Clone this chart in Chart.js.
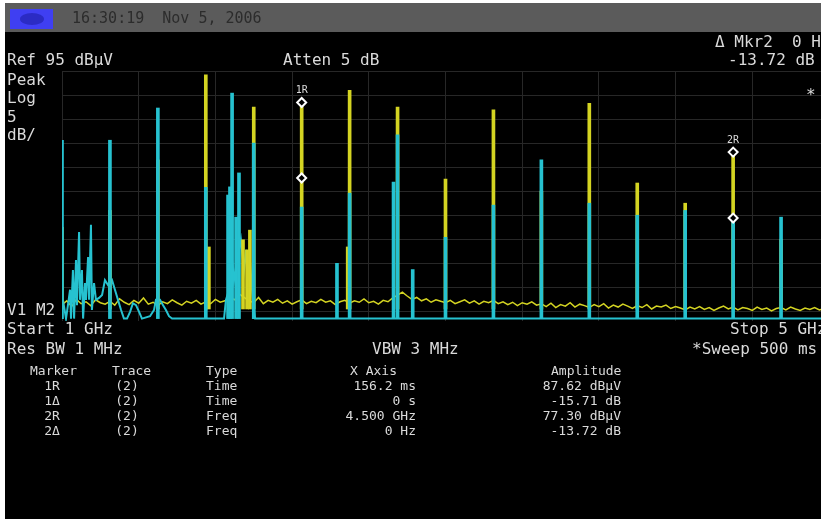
<!DOCTYPE html>
<html><head><meta charset="utf-8">
<script src="https://cdn.jsdelivr.net/npm/chart.js@4.4.1/dist/chart.umd.min.js"></script>
<style>
html,body{margin:0;padding:0;width:821px;height:519px;overflow:hidden;background:#fff;}
#screen{position:absolute;left:5px;top:3px;width:816px;height:516px;background:#000;}
#bar{position:absolute;left:5px;top:3px;width:816px;height:29px;background:#5b5b5b;}
#logo{position:absolute;left:10px;top:9px;width:43px;height:20px;background:#3f3ff2;}
#logoMark{position:absolute;left:20px;top:13px;width:24px;height:12px;border-radius:50%;background:#2b2bc4;}
canvas{position:absolute;left:0;top:0;}
.t{position:absolute;font-family:"DejaVu Sans Mono",monospace;color:#dadada;white-space:pre;font-size:16px;line-height:16px;}
.s{font-size:13px;line-height:13px;}
.m{font-size:10px;line-height:10px;}
</style></head>
<body>
<div id="screen"></div>
<div id="bar"></div>
<div id="logo"></div><div id="logoMark"></div>
<canvas id="c" width="840" height="519"></canvas>
<div id="texts"></div>
<script>
// ---- axis grid (graticule) ----
const xGridGHz = [1.0,1.4,1.8,2.2,2.6,3.0,3.4,3.8,4.2,4.6,5.0];
const yGridDb  = [95,90,85,80,75,70,65,60,55,50,45];

// ---- trace 1 (yellow) noise floor, sweep points ----
const sweepStartGHz = 1.0;
const sweepStepGHz = 0.025;
const trace1FloorDb = [
46.4,47.2,46.0,47.5,46.6,47.0,46.2,47.4,46.8,46.5,
47.1,46.3,47.6,46.9,46.4,47.3,46.7,47.8,46.5,46.9,
46.2,47.0,46.6,47.4,46.8,46.3,47.1,46.7,47.3,46.5,
47.0,46.6,47.5,46.9,47.2,48.0,47.4,48.6,47.9,47.2,
46.8,47.9,46.6,47.3,46.9,47.5,46.7,47.2,46.5,47.0,
47.4,46.6,47.1,46.8,47.5,46.9,47.2,46.4,47.0,47.3,
46.7,47.2,46.9,47.6,46.8,47.1,46.5,47.3,47.0,47.8,
48.4,49.0,48.2,47.5,47.9,47.2,47.6,46.9,47.4,47.1,
46.8,47.3,46.6,47.0,47.4,46.7,47.2,46.5,47.1,46.8,
47.3,46.6,47.0,46.4,46.9,46.2,46.8,46.5,47.0,46.3,
46.6,46.0,46.7,45.8,46.4,46.1,46.8,45.9,46.5,46.2,
45.8,46.4,46.0,46.6,45.7,46.3,45.9,46.5,46.1,45.6,
46.2,45.8,46.4,45.5,46.1,45.9,46.3,45.6,46.0,45.7,
45.3,45.9,45.5,46.0,45.4,45.8,45.2,45.7,46.1,45.5,
45.9,45.3,45.8,45.6,45.2,45.9,45.4,45.7,45.1,45.6,
45.8,45.3,45.9,45.5,45.2,45.7,45.4,45.8,45.3,45.6,45.5];

// ---- trace 1 (yellow) spikes ----
const trace1SpikeBaseDb = 45.5;
const trace1SpikeGHz = [1.000,1.250,1.500,1.750,1.766,1.944,1.965,1.980,2.000,2.250,2.490,2.500,2.750,3.000,3.250,3.500,3.750,4.000,4.250,4.500,4.750];
const trace1SpikeDb  = [62.5,66.0,76.5,94.2,58.4,59.9,57.8,61.9,87.5,87.62,58.4,91.0,87.5,72.5,86.9,70.0,88.3,71.7,67.5,77.30,60.0];

// ---- trace 2 (cyan) line ----
const trace2GHz = [1.000,1.005,1.021,1.031,1.042,1.047,1.057,1.063,1.073,1.078,1.089,1.094,1.104,1.110,1.120,1.125,1.136,1.141,1.151,1.156,1.167,1.177,1.193,1.209,1.224,1.240,1.261,1.276,1.292,1.308,1.323,1.339,1.355,1.370,1.386,1.402,1.417,1.459,1.480,1.490,1.511,1.527,1.542,1.558,1.574,1.845,1.855,1.871,1.881,1.897,1.913,1.933,1.949,1.960,1.970,1.980,1.991,2.007,5.000];
const trace2Db  = [46.0,47.4,43.5,46.3,49.5,43.5,53.6,43.5,55.7,46.3,61.5,47.4,53.6,43.5,50.9,47.4,56.3,47.4,63.0,45.3,50.9,47.4,47.8,48.4,51.5,50.5,51.5,49.5,47.4,45.3,43.5,43.5,44.9,46.7,46.3,44.9,43.5,44.0,45.3,47.4,47.4,46.3,45.3,44.0,43.5,43.5,47.4,49.5,57.8,51.5,55.7,59.9,53.6,57.8,51.5,55.7,49.5,43.5,43.5];

// ---- trace 2 (cyan) spikes ----
const trace2SpikeBaseDb = 43.5;
const trace2SpikeGHz = [1.000,1.250,1.500,1.750,1.866,1.876,1.887,1.908,1.923,2.000,2.250,2.434,2.500,2.729,2.750,2.829,3.000,3.250,3.500,3.750,4.000,4.250,4.500,4.750];
const trace2SpikeDb  = [80.6,80.6,87.3,70.8,69.2,70.9,90.4,64.6,73.8,80.0,66.7,55.0,69.6,71.9,81.7,53.7,60.4,67.1,76.5,67.5,65.0,66.0,64.0,64.6];

// ---- markers ----
const markerNames     = ['1R','1Δ','2R','2Δ'];
const markerTraces    = ['(2)','(2)','(2)','(2)'];
const markerTypes     = ['Time','Time','Freq','Freq'];
const markerXAxis     = ['156.2 ms','0 s','4.500 GHz','0 Hz'];
const markerAmplitude = ['87.62 dBµV','-15.71 dB','77.30 dBµV','-13.72 dB'];
const markerGHz = [2.25,2.25,4.5,4.5];
const markerDb  = [87.62,71.91,77.30,63.58];
const markerTags = ['1R','','2R',''];

// ---- panel texts ----
const panelTexts = [
  ['16:30:19  Nov 5, 2006', 72, 18, '#2c2c2c', 15],
  ['Ref 95 dBµV', 7, 60], ['Atten 5 dB', 283, 60],
  ['Δ Mkr2  0 Hz', 715, 42], ['-13.72 dB', 728, 60],
  ['Peak', 7, 80], ['Log', 7, 98], ['5', 7, 117], ['dB/', 7, 135],
  ['*', 806, 95],
  ['V1 M2', 7, 310], ['Start 1 GHz', 7, 329], ['Res BW 1 MHz', 7, 349],
  ['VBW 3 MHz', 372, 349], ['Stop 5 GHz', 730, 329], ['*Sweep 500 ms', 692, 349]
];
const tableHeaders = ['Marker','Trace','Type','X Axis','Amplitude'];

const YEL = '#d4d422', CYA = '#26c2d0';
const texts = document.getElementById('texts');
function addText(str, x, cy, cls, color, size, align) {
  const d = document.createElement('div');
  d.className = 't' + (cls ? ' ' + cls : '');
  d.textContent = str;
  if (size) { d.style.fontSize = size + 'px'; d.style.lineHeight = size + 'px'; }
  const lh = size || (cls === 's' ? 13 : cls === 'm' ? 10 : 16);
  d.style.top = (cy - lh / 2) + 'px';
  if (color) d.style.color = color;
  if (align === 'right') { d.style.right = (821 - x) + 'px'; }
  else if (align === 'center') { d.style.left = (x - 40) + 'px'; d.style.width = '80px'; d.style.textAlign = 'center'; }
  else d.style.left = x + 'px';
  texts.appendChild(d);
  return d;
}
panelTexts.forEach(p => addText(p[0], p[1], p[2], '', p[3], p[4]));

// table
const rowY0 = 370, rowDy = 15;
addText(tableHeaders[0], 30, rowY0, 's'); addText(tableHeaders[1], 112, rowY0, 's');
addText(tableHeaders[2], 206, rowY0, 's'); addText(tableHeaders[3], 350, rowY0, 's');
addText(tableHeaders[4], 551, rowY0, 's');
markerNames.forEach((n, i) => {
  const y = rowY0 + rowDy * (i + 1);
  addText(n, 52, y, 's', null, null, 'center');
  addText(markerTraces[i], 127, y, 's', null, null, 'center');
  addText(markerTypes[i], 206, y, 's');
  addText(markerXAxis[i], 416, y, 's', null, null, 'right');
  addText(markerAmplitude[i], 621, y, 's', null, null, 'right');
});

const sweepPoints = trace1FloorDb.map((v, i) => ({ x: sweepStartGHz + i * sweepStepGHz, y: v }));

const markerShift = {
  id: 'markerShift',
  beforeDatasetDraw(chart, args) { if (args.meta.type === 'scatter') { chart.ctx.save(); chart.ctx.translate(0, -4); } },
  afterDatasetDraw(chart, args) { if (args.meta.type === 'scatter') chart.ctx.restore(); }
};

const chart = new Chart(document.getElementById('c'), {
  type: 'line',
  data: {
    datasets: [
      { data: sweepPoints, borderColor: YEL, borderWidth: 1.5, pointRadius: 0, tension: 0, order: 6 },
      { data: trace2GHz.map((f, i) => ({ x: f, y: trace2Db[i] })), borderColor: CYA, borderWidth: 2, pointRadius: 0, tension: 0, order: 5 },
      { type: 'bar', data: trace1SpikeGHz.map((f, i) => ({ x: f, y: [trace1SpikeBaseDb, trace1SpikeDb[i]] })), backgroundColor: YEL, barThickness: 3, grouped: false, order: 4 },
      { type: 'bar', data: trace2SpikeGHz.map((f, i) => ({ x: f, y: [trace2SpikeBaseDb, trace2SpikeDb[i]] })), backgroundColor: CYA, barThickness: 3, grouped: false, order: 3 },
      { type: 'scatter', data: markerGHz.map((f, i) => ({ x: f, y: markerDb[i] })), pointStyle: 'rectRot', pointRadius: 4.5, borderColor: '#ffffff', backgroundColor: '#000000', borderWidth: 2, showLine: false, clip: false, order: 1 }
    ]
  },
  options: {
    responsive: false, animation: false,
    layout: { padding: { left: 62, top: 71, right: 11, bottom: 198 } },
    plugins: { legend: { display: false }, tooltip: { enabled: false } },
    scales: {
      x: { type: 'linear', min: 1, max: 5, offset: false,
           grid: { color: '#272727', drawTicks: false, offset: false }, border: { display: false },
           ticks: { display: false }, afterBuildTicks: s => { s.ticks = xGridGHz.map(v => ({ value: v })); } },
      y: { type: 'linear', min: 43, max: 95,
           grid: { color: '#272727', drawTicks: false }, border: { display: false },
           ticks: { display: false }, afterBuildTicks: s => { s.ticks = yGridDb.map(v => ({ value: v })); } }
    }
  },
  plugins: [markerShift]
});

// marker tags placed from the chart scales
markerTags.forEach((tag, i) => {
  if (!tag) return;
  const px = chart.scales.x.getPixelForValue(markerGHz[i]);
  const py = chart.scales.y.getPixelForValue(markerDb[i]);
  addText(tag, px, py - 16, 'm', null, null, 'center');
});
</script>
</body></html>
